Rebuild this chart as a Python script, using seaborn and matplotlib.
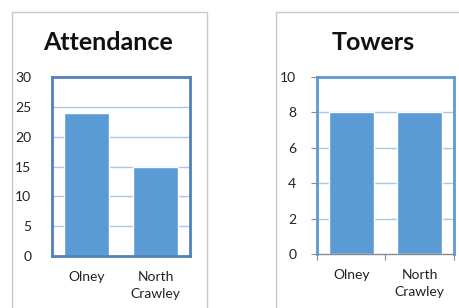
import matplotlib
matplotlib.use("Agg")
import matplotlib.pyplot as plt
import seaborn as sns
import pandas as pd
from matplotlib.patches import Rectangle

categories = ["Olney", "North\nCrawley"]
attendance = [24, 15]
towers = [8, 8]
att_ticks = [0, 5, 10, 15, 20, 25, 30]
tow_ticks = [0, 2, 4, 6, 8, 10]

sns.set_theme(style="white")
plt.rcParams['font.family'] = ['Lato', 'DejaVu Sans']

W, H = 460, 308
fig = plt.figure(figsize=(W / 100, H / 100), dpi=100)
fig.patch.set_facecolor("white")

def px(x0, y0, x1, y1):
    return [x0 / W, 1 - y1 / H, (x1 - x0) / W, (y1 - y0) / H]

# panel borders
for (x0, x1) in [(12, 207), (276, 470)]:
    r = Rectangle((x0 / W, -0.1), (x1 - x0) / W, (H - 12) / H + 0.1,
                  transform=fig.transFigure, fill=False,
                  edgecolor="#c8c8c8", linewidth=1.0, zorder=0)
    fig.patches.append(r)

BAR = "#5B9BD5"
GRID = "#A9C8E8"

def draw(rect, title, values, ticks, frame_color, bottom_color, title_x, show_marks):
    ax = fig.add_axes(px(*rect))
    df = pd.DataFrame({"cat": categories, "val": values})
    sns.barplot(data=df, x="cat", y="val", color=BAR, saturation=1,
                width=0.66, ax=ax, zorder=3)
    ax.set_ylim(ticks[0], ticks[-1])
    ax.set_xlim(-0.5, 1.5)
    ax.set_yticks(ticks)
    ax.set_yticklabels([str(t) for t in ticks], fontsize=10, color="#222222")
    ax.set_xticks([0, 1])
    ax.set_xticklabels(categories, fontsize=10, color="#222222", linespacing=1.45)
    ax.set_xlabel("")
    ax.set_ylabel("")
    ax.tick_params(axis="x", length=0, pad=11)
    if show_marks:
        ax.tick_params(axis="y", length=4, width=0.8, color="#888888", pad=11, left=True)
        ax.set_xticks([-0.5, 0.5, 1.5], minor=True)
        ax.tick_params(axis="x", which="minor", length=4, width=0.8, color="#888888", bottom=True)
    else:
        ax.tick_params(axis="y", length=0, pad=15)
    for t in ticks[1:-1]:
        ax.axhline(t, color=GRID, linewidth=1.0, zorder=1)
    for name, s in ax.spines.items():
        s.set_visible(True)
        s.set_color(frame_color if name != "bottom" else bottom_color)
        s.set_linewidth(2.0 if name != "bottom" or bottom_color == frame_color else 1.0)
        s.set_zorder(5)
    fig.text(title_x / W, 1 - 42 / H, title, ha="center", va="center",
             fontsize=18, fontweight="bold", color="#111111")
    return ax

draw((52, 77, 190, 256), "Attendance", attendance, att_ticks, "#4F81BD", "#4F81BD", 108, False)
draw((317, 77, 454, 254), "Towers", towers, tow_ticks, "#5B9BD5", "#8C8C8C", 373, True)

fig.savefig("out.png", dpi=100, facecolor="white")
